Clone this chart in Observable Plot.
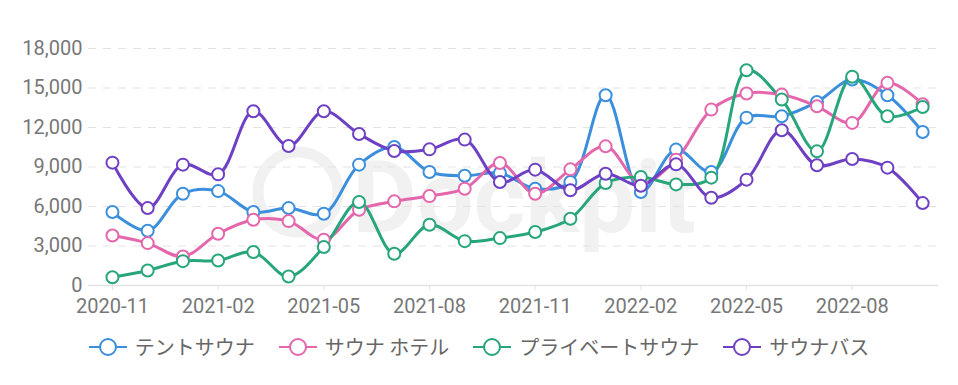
<!DOCTYPE html>
<html><head><meta charset="utf-8">
<script src="https://cdn.jsdelivr.net/npm/d3@7"></script>
<script src="https://cdn.jsdelivr.net/npm/@observablehq/plot@0.6"></script>
<style>
body{margin:0;background:#fff;font-family:Roboto,"Noto Sans CJK JP",sans-serif;}
#chart{position:relative;}
#chart svg.plot{display:block;position:relative;z-index:1;background:transparent !important;}
#chart svg.plot text{font-size:20px;font-family:Roboto,sans-serif;}
#wm{position:absolute;left:0;top:0;z-index:0;}
#legend{display:flex;justify-content:center;gap:24px;margin-top:11px;height:28px;line-height:28px;font-family:"Noto Sans CJK JP",Roboto,sans-serif;font-size:20px;color:#666;}
.item{display:flex;align-items:center;gap:8px;}
</style></head>
<body>
<div id="chart"><svg id="wm" width="958" height="322"><circle cx="298" cy="192" r="40" fill="none" stroke="#f1f1f1" stroke-width="11"/><text x="352" y="232" font-family="Roboto" font-weight="bold" font-size="100" fill="#f1f1f1">Dockpit</text></svg></div>
<div id="legend"></div>
<script>
const months = ["2020-11","2020-12","2021-01","2021-02","2021-03","2021-04","2021-05","2021-06","2021-07","2021-08","2021-09","2021-10","2021-11","2021-12","2022-01","2022-02","2022-03","2022-04","2022-05","2022-06","2022-07","2022-08","2022-09","2022-10"];
const seriesNames = ["テントサウナ","サウナ ホテル","プライベートサウナ","サウナバス"];
const colors = ["#3b8fdc","#e466ac","#27a67c","#6e40c4"];
const tent    = [5580,4160,6970,7170,5580,5880,5450,9180,10520,8620,8340,8540,7350,7860,14450,7100,10320,8620,12750,12850,13940,15640,14450,11660];
const hotel   = [3800,3220,2200,3930,4990,4890,3470,5750,6390,6790,7350,9300,6970,8820,10570,7780,9560,13360,14580,14500,13610,12350,15390,13770];
const privateS= [630,1140,1850,1900,2540,680,2920,6340,2410,4610,3370,3600,4060,5070,7780,8240,7680,8190,16350,14120,10190,15850,12850,13560];
const bath    = [9330,5880,9180,8440,13230,10600,13230,11510,10220,10340,11080,7860,8800,7230,8490,7580,9200,6670,8040,11790,9130,9610,8950,6260];
const yTicks = [0,3000,6000,9000,12000,15000,18000];
const xTickIdx = [0,3,6,9,12,15,18,21];

const all = [tent,hotel,privateS,bath];
const data = [];
all.forEach((arr,s)=>arr.forEach((v,i)=>data.push({i, v, s:seriesNames[s]})));

const chart = Plot.plot({
  width:958, height:322,
  marginLeft:88, marginRight:20, marginTop:48, marginBottom:37,
  style:{fontFamily:"Roboto, sans-serif", fontSize:"20px", color:"#666", background:"transparent"},
  x:{domain:[-0.68,23.45], axis:null},
  y:{domain:[0,18000], axis:null},
  color:{domain:seriesNames, range:colors},
  marks:[
    Plot.ruleY(yTicks.filter(d=>d>0), {stroke:"#e3e3e3", strokeWidth:1.2, strokeDasharray:"8,7"}),
    Plot.ruleY([0], {stroke:"#e3e3e3", strokeWidth:1.5}),
    Plot.axisY({ticks:yTicks, label:null, tickSize:0, tickPadding:6, tickFormat:d=>d3.format(",")(d), fill:"#777"}),
    Plot.axisX({ticks:xTickIdx, label:null, tickSize:5, tickPadding:8, stroke:"#e3e3e3", tickFormat:d=>months[d], fill:"#777"}),
    Plot.line(data, {x:"i", y:"v", z:"s", stroke:"s", strokeWidth:3, curve:"catmull-rom"}),
    Plot.dot(data, {x:"i", y:"v", stroke:"s", fill:"white", r:6, strokeWidth:2})
  ]
});
chart.classList.add("plot");
document.getElementById("chart").appendChild(chart);

const lg = document.getElementById("legend");
seriesNames.forEach((n,k)=>{
  const it = document.createElement("div"); it.className="item";
  it.innerHTML = `<svg width="38" height="22"><line x1="0" x2="38" y1="11" y2="11" stroke="${colors[k]}" stroke-width="2"/><circle cx="19" cy="11" r="8" fill="white" stroke="${colors[k]}" stroke-width="2"/></svg><span>${n}</span>`;
  lg.appendChild(it);
});
</script>
</body></html>
